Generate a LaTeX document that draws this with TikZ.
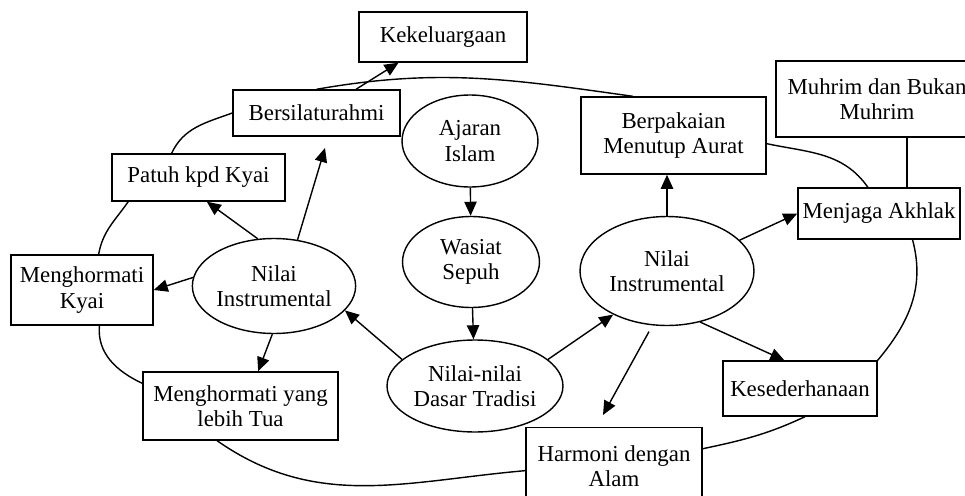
\documentclass[tikz,border=0pt]{standalone}
\usepackage{fontspec}
\setmainfont{Liberation Serif}
\usetikzlibrary{shapes.geometric, arrows.meta, positioning}

\begin{document}
\begin{tikzpicture}[
    x=0.02cm, y=0.02cm,
    font=\fontsize{13}{14.5}\selectfont,
    kotak/.style={rectangle, draw, line width=0.8pt, inner sep=0pt, align=center},
    elips/.style={ellipse, draw, line width=0.8pt, inner sep=0pt, align=center},
    panah/.style={-{Triangle[length=8pt, width=7pt]}, line width=0.8pt},
    garis/.style={line width=0.8pt}
]
    \useasboundingbox (0,0) rectangle (965,495);

    % kotak nilai
    \node[kotak, minimum width=3.36cm, minimum height=1cm] (kekeluargaan) at (443,458) {Kekeluargaan};
    \node[kotak, minimum width=3.34cm, minimum height=0.92cm] (silaturahmi) at (316.5,382) {Bersilaturahmi};
    \node[kotak, minimum width=3.46cm, minimum height=0.94cm] (patuh) at (198.5,317.5) {Patuh kpd Kyai};
    \node[kotak, minimum width=2.84cm, minimum height=1.4cm] (hormatKyai) at (82,205) {Menghormati\\Kyai};
    \node[kotak, minimum width=3.9cm, minimum height=1.36cm] (hormatTua) at (240.5,89) {Menghormati yang\\lebih Tua};
    \node[kotak, minimum width=3.52cm, minimum height=1.54cm] (harmoni) at (614,29) {Harmoni dengan\\Alam};
    \node[kotak, minimum width=3.08cm, minimum height=1.1cm] (sederhana) at (800,106.5) {Kesederhanaan};
    \node[kotak, minimum width=3.24cm, minimum height=1.02cm] (akhlak) at (879,281.5) {Menjaga Akhlak};
    \node[kotak, minimum width=4.04cm, minimum height=1.52cm] (muhrim) at (877,396) {Muhrim dan Bukan\\Muhrim};
    \node[kotak, minimum width=3.7cm, minimum height=1.54cm] (aurat) at (673.5,359.5) {Berpakaian\\Menutup Aurat};

    % elips tengah
    \node[elips, minimum width=2.72cm, minimum height=1.84cm] (ajaran) at (470,354) {Ajaran\\Islam};
    \node[elips, minimum width=2.74cm, minimum height=1.82cm] (wasiat) at (471,233) {Wasiat\\Sepuh};
    \node[elips, minimum width=3.52cm, minimum height=1.84cm] (dasar) at (475,109) {Nilai-nilai\\Dasar Tradisi};
    \node[elips, minimum width=3.24cm, minimum height=1.9cm] (instKiri) at (274,209) {Nilai\\Instrumental};
    \node[elips, minimum width=3.48cm, minimum height=2.18cm] (instKanan) at (667,224) {Nilai\\Instrumental};

    \coordinate (ujungKiri) at (325,347);
    \coordinate (ujungKanan) at (603,80);

    % panah
    \draw[panah] (ajaran) -- (wasiat);
    \draw[panah] (wasiat) -- (dasar);
    \draw[panah] (dasar.160) -- (instKiri.-19);
    \draw[panah] (dasar.20) -- (instKanan.219);
    \draw[panah] (instKiri.174) -- (hormatKyai.east);
    \draw[panah] (instKiri.109) -- (patuh.-71);
    \draw[panah] (instKiri.63) -- (ujungKiri);
    \draw[panah] (instKiri.268) -- (hormatTua.63);
    \draw[panah] (silaturahmi.31) -- (kekeluargaan.210);
    \draw[panah] (instKanan.north) -- (instKanan.north |- aurat.south);
    \draw[panah] (instKanan.23) -- (akhlak.west);
    \draw[panah] (instKanan.-57) -- (sederhana.119);
    \draw[panah, shorten <=4pt] (instKanan.-105) -- (ujungKanan);

    % garis lingkar
    \draw[garis] (silaturahmi.north) to[out=10, in=172] (aurat.136);
    \draw[garis] (patuh.138) to[out=65, in=200] (silaturahmi.west);
    \draw[garis] (patuh.199) to[out=235, in=80] (hormatKyai.65);
    \draw[garis] (hormatKyai.-64) to[out=-95, in=155] (hormatTua.167);
    \draw[garis] (hormatTua.236) to[out=-35, in=185] (harmoni.183);
    \draw[garis] (harmoni.11) to[out=12, in=205] (sederhana.-80);
    \draw[garis] (sederhana.north east) to[out=50, in=-75] (akhlak.-38);
    \draw[garis] (akhlak.113) to[out=125, in=-12] (aurat.-5);
    \draw[garis] (akhlak.43) -- (akhlak.43 |- muhrim.south);
\end{tikzpicture}
\end{document}
